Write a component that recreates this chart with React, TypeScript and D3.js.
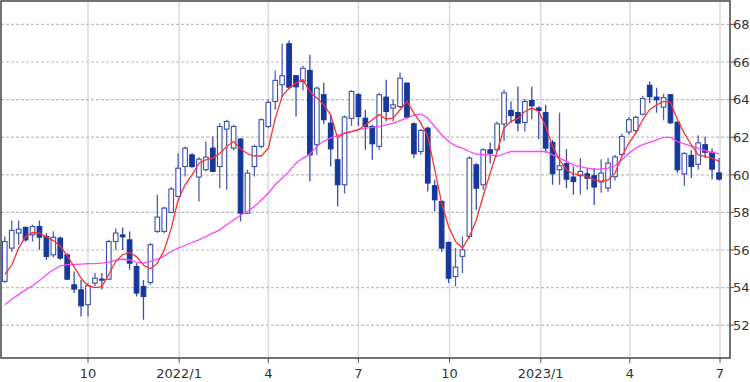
import React from 'react';
import * as d3 from 'd3';

const firstWeek = '2021-07-09';

const open = [54.33,56.10,56.90,57.20,56.81,57.25,56.72,55.74,56.63,55.74,54.15,53.88,53.09,54.24,54.45,54.45,56.45,56.80,56.54,55.12,54.06,54.27,56.99,56.99,58.00,58.85,60.44,61.06,59.88,60.27,61.42,60.44,62.43,61.42,61.90,57.96,60.44,61.51,62.57,63.90,64.79,66.97,65.27,64.96,65.55,61.60,64.26,62.75,60.80,59.47,63.00,64.26,63.01,62.57,61.51,64.13,63.55,63.63,64.88,62.71,61.24,62.48,59.42,58.58,56.40,54.59,55.66,56.72,60.53,59.47,61.33,61.33,62.70,63.42,63.31,62.78,63.95,63.55,63.31,61.72,60.27,60.59,59.88,59.95,60.05,59.95,59.62,59.29,59.90,61.08,62.28,62.35,63.22,64.76,64.13,63.60,64.26,62.80,60.05,61.03,60.56,61.60,61.20,60.10];
const high = [56.72,57.57,57.57,57.25,57.35,57.57,56.90,57.00,56.72,55.82,54.86,54.41,54.24,54.77,54.77,56.54,57.15,57.20,56.99,55.30,54.41,56.37,58.94,58.30,59.35,61.15,61.51,61.15,60.94,61.77,62.04,62.75,62.93,62.66,61.95,60.27,61.60,63.00,64.00,65.55,66.97,67.15,65.30,65.80,66.38,64.70,64.90,63.20,61.90,63.15,64.50,64.35,63.46,62.66,64.35,65.05,64.02,65.44,64.90,62.80,62.43,62.57,59.73,58.67,56.45,56.10,56.72,60.98,60.62,61.42,61.72,62.84,64.52,63.90,64.70,64.03,64.70,63.65,63.72,61.86,63.31,61.37,60.44,60.89,60.36,60.36,60.83,60.89,61.06,62.18,63.07,63.14,64.20,64.98,64.63,64.30,64.30,62.84,61.20,61.33,62.10,62.04,61.40,60.90];
const low = [54.24,55.90,56.28,56.45,56.45,56.01,55.48,55.60,55.48,54.41,53.71,52.46,52.46,54.06,53.90,54.41,56.01,56.00,54.95,53.53,52.29,54.15,56.90,56.90,57.97,58.80,59.91,60.35,58.58,60.18,60.13,59.29,59.20,61.30,57.52,57.90,59.91,61.42,62.48,63.46,64.17,64.52,63.10,64.50,59.65,61.06,62.70,60.44,58.32,59.00,62.60,62.60,61.33,60.80,61.33,62.84,62.84,63.55,63.00,60.89,61.06,59.11,58.05,55.90,54.24,54.06,54.77,56.60,58.14,59.20,60.60,61.24,61.80,62.75,62.30,62.30,62.96,61.90,61.17,59.47,59.47,59.29,58.94,58.94,59.20,58.40,59.04,59.10,59.70,60.97,62.13,62.20,63.15,63.81,63.30,62.90,62.70,60.09,59.42,59.82,60.27,60.89,59.75,59.70];
const close = [56.45,57.04,57.11,56.54,57.25,56.68,55.66,56.68,55.57,54.45,53.92,53.03,54.10,54.50,54.41,56.45,56.90,56.70,55.30,53.71,53.53,56.28,57.75,58.23,59.24,60.35,61.42,60.44,60.83,60.94,60.18,62.57,62.84,62.57,57.96,60.09,61.51,62.93,63.85,65.02,65.27,64.66,64.68,65.67,61.06,64.61,62.93,61.38,59.47,63.07,64.43,63.10,62.57,61.65,64.26,63.37,63.72,65.14,63.07,61.12,62.36,59.56,58.67,56.10,54.50,55.09,56.01,60.89,59.29,61.33,61.15,62.71,64.36,63.15,62.75,63.90,63.67,63.42,61.42,60.05,60.48,59.77,59.64,60.18,59.82,59.35,60.09,60.62,60.95,62.04,62.93,63.06,64.05,64.16,63.99,64.10,62.77,60.27,61.14,60.44,61.70,61.20,60.30,59.77];
const maShort = [54.70,55.20,56.10,56.70,56.93,56.90,56.70,56.50,56.20,55.70,55.10,54.50,54.10,54.00,54.05,54.70,55.40,55.75,55.87,55.65,55.20,55.00,55.30,56.00,57.15,58.67,59.47,60.00,60.62,60.80,60.89,61.15,61.50,61.77,61.38,61.12,61.00,61.00,61.42,63.00,64.17,64.61,64.88,65.06,64.43,64.08,63.72,63.19,61.95,62.22,62.30,62.40,62.65,62.93,63.20,62.97,63.01,63.46,63.90,63.28,62.75,62.04,60.27,58.49,57.25,56.45,56.10,56.72,57.60,58.90,60.09,61.24,62.48,62.84,63.00,63.37,63.55,63.37,62.57,61.51,60.80,60.27,60.05,60.00,59.91,59.73,59.65,59.73,60.09,60.98,61.69,62.22,62.93,63.46,63.72,63.90,63.85,62.93,62.22,61.60,61.06,60.98,60.89,60.71];
const maLong = [53.09,53.37,53.64,53.88,54.10,54.38,54.68,54.95,55.16,55.22,55.23,55.25,55.27,55.27,55.30,55.36,55.45,55.52,55.48,55.36,55.30,55.39,55.51,55.69,55.92,56.10,56.24,56.40,56.54,56.72,56.90,57.07,57.34,57.60,57.85,58.05,58.32,58.67,59.02,59.47,59.82,60.18,60.62,60.89,61.10,61.50,61.80,61.95,62.10,62.22,62.30,62.40,62.48,62.52,62.57,62.66,62.75,62.88,63.01,63.19,63.24,63.01,62.57,62.13,61.77,61.54,61.42,61.24,61.10,61.08,61.06,60.98,61.12,61.24,61.24,61.24,61.24,61.24,61.24,61.06,60.89,60.71,60.53,60.44,60.36,60.30,60.30,60.36,60.48,60.80,61.15,61.42,61.60,61.72,61.86,61.99,61.99,61.77,61.65,61.51,61.42,61.29,61.19,61.12];

const yTicks = [52, 54, 56, 58, 60, 62, 64, 66, 68];
const monthTicks = ['2021-10-01', '2022-01-01', '2022-04-01', '2022-07-01', '2022-10-01', '2023-01-01', '2023-04-01', '2023-07-01'];
const monthLabels = ['10', '2022/1', '4', '7', '10', '2023/1', '4', '7'];

export default function App() {
  const W = 750, H = 382;
  const L = 1, T = 1, R = 730, B = 358;
  const x = d3.scaleUtc().domain([new Date('2021-10-01'), new Date('2023-07-01')]).range([88, 720]);
  const y = d3.scaleLinear().domain([52, 68]).range([325.2, 24.4]);
  const start = new Date(firstWeek + 'T00:00:00Z');
  const dates = close.map((_, i) => d3.utcDay.offset(start, 7 * i));
  const mkLine = d3.line<number>().x((_, i) => x(dates[i])).y((d) => y(d)).curve(d3.curveLinear);
  const bw = 4.6;
  const fillDown = '#17389a';
  const strokeUp = '#3b4fa6';
  const font = '"DejaVu Sans", Verdana, sans-serif';
  return (
    <svg width={W} height={H} style={{ position: 'absolute', left: 0, top: 0, background: '#fff' }}>
      <defs>
        <clipPath id="plot"><rect x={L} y={T} width={R - L} height={B - T} /></clipPath>
      </defs>
      <rect x={0} y={0} width={W} height={H} fill="#fff" />
      {monthTicks.map((m, i) => {
        const xx = x(new Date(m));
        return (
          <g key={'m' + i}>
            <line x1={xx} x2={xx} y1={T} y2={B} stroke="#dcdcdc" strokeWidth={1.6} />
            <line x1={xx} x2={xx} y1={B} y2={B + 5} stroke="#555" strokeWidth={1} />
            <text x={xx} y={378} textAnchor="middle" fontFamily={font} fontSize={13} fill="#333">{monthLabels[i]}</text>
          </g>
        );
      })}
      {yTicks.map((v) => (
        <g key={'y' + v}>
          <line x1={L} x2={R} y1={y(v)} y2={y(v)} stroke="#bdbdbd" strokeWidth={1.2} strokeDasharray="3,2" />
          <line x1={R} x2={R + 4} y1={y(v)} y2={y(v)} stroke="#555" strokeWidth={1} />
          <text x={733} y={y(v) + 4.7} fontFamily={font} fontSize={13} fill="#333">{v}</text>
        </g>
      ))}
      <g clipPath="url(#plot)">
        {close.map((c, i) => {
          const cx = x(dates[i]);
          const o = open[i];
          const up = c >= o;
          const top = y(Math.max(o, c));
          const h = Math.max(1, Math.abs(y(o) - y(c)));
          return (
            <g key={'c' + i}>
              <line x1={cx} x2={cx} y1={y(high[i])} y2={y(low[i])} stroke={up ? '#5060ae' : '#3a4ea6'} strokeWidth={1.3} />
              <rect x={cx - bw / 2} y={top} width={bw} height={h}
                fill={up ? '#ffffff' : fillDown} stroke={up ? strokeUp : fillDown} strokeWidth={1.1} />
            </g>
          );
        })}
        <path d={mkLine(maLong) || ''} fill="none" stroke="#ff44ff" strokeWidth={1.3} />
        <path d={mkLine(maShort) || ''} fill="none" stroke="#ff3030" strokeWidth={1.3} />
      </g>
      <rect x={L} y={T} width={R - L} height={B - T} fill="none" stroke="#444" strokeWidth={1.5} />
    </svg>
  );
}
